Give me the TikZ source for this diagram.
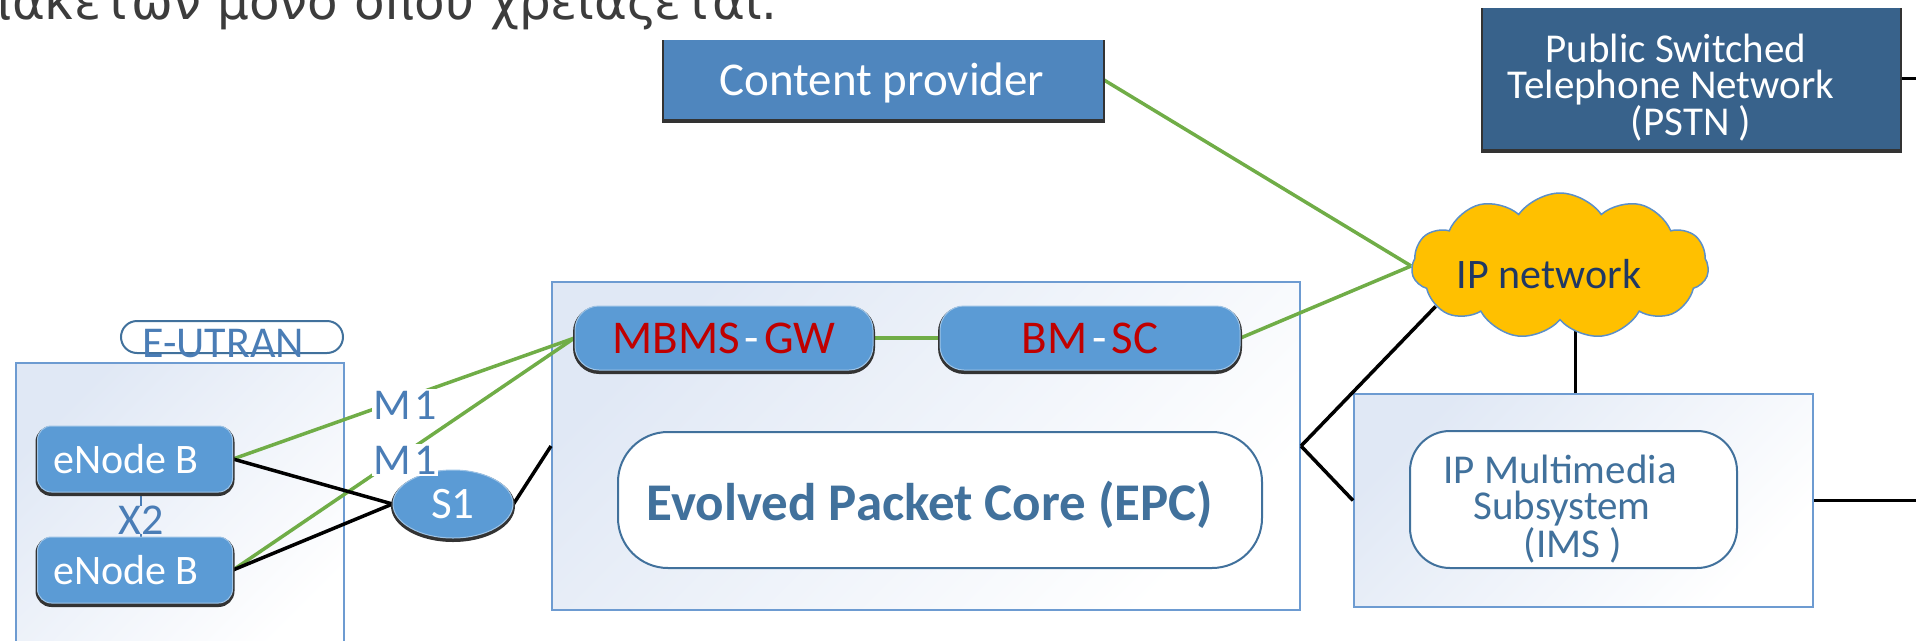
\documentclass[tikz,border=0pt]{standalone}
\usepackage{fontspec}
\setmainfont{Carlito}
\newfontfamily\greekfont{DejaVu Sans}
\usetikzlibrary{shapes.geometric,shapes.symbols,shadows}
\pgfdeclarelayer{frames}
\pgfdeclarelayer{links}
\pgfsetlayers{frames,links,main}

\definecolor{unitblue}{HTML}{5B9BD5}
\definecolor{provblue}{HTML}{4F86BE}
\definecolor{pstnblue}{HTML}{38628B}
\definecolor{frameedge}{HTML}{6D9BD1}
\definecolor{frametint}{HTML}{E0E8F5}
\definecolor{labelblue}{HTML}{4A7DB6}
\definecolor{coreblue}{HTML}{41719C}
\definecolor{ipblue}{HTML}{203864}
\definecolor{cloudgold}{HTML}{FFC000}
\definecolor{cloudedge}{HTML}{5B8FC9}
\definecolor{mbmsred}{HTML}{C00000}
\definecolor{linkgreen}{HTML}{70AD47}
\definecolor{headgray}{HTML}{3C3C3C}

\newcommand\fsz[1]{\fontsize{#1}{#1}\selectfont}
\newcommand\whdash{\kern5pt{\color{white}-}\kern5pt}

\begin{document}
\begin{tikzpicture}[x=1pt,y=-1pt,
  frame/.style={draw=frameedge, line width=2pt, top color=frametint,
    bottom color=white, shading angle=45, inner sep=0pt},
  darkshadow/.style={general shadow={fill=black!80, draw=black!80,
    line width=4pt, shadow yshift=-2pt}},
  unit/.style={fill=unitblue, draw=unitblue!60!white, line width=1pt,
    text=white, rounded corners=14pt, inner sep=0pt, font=\fsz{42},
    darkshadow},
  square/.style={draw=none, text=white, inner sep=0pt, darkshadow},
  tag/.style={text=labelblue, inner sep=0pt, font=\fsz{44}},
  core/.style={draw=coreblue, line width=2pt, fill=white, inner sep=0pt},
  wire/.style={draw=black, line width=3.5pt},
  feed/.style={draw=linkgreen, line width=3.5pt},
  txt/.style={anchor=base, inner sep=0pt},
]
\useasboundingbox (0,0) rectangle (1916,640);

% heading line, cut by the top edge
\node[txt, anchor=base east, text=headgray, font=\greekfont\fsz{50}]
  (heading) at (778,19) {πακέτων μόνο όπου χρειάζεται.};

% large container frames
\begin{pgfonlayer}{frames}
  \node[frame, anchor=north west, minimum width=328pt, minimum height=300pt]
    (ran) at (15,362) {};
  \node[frame, minimum width=748pt, minimum height=328pt] (epc) at (926,446) {};
  \node[frame, minimum width=459pt, minimum height=213pt]
    (imsframe) at (1583.5,500.5) {};
\end{pgfonlayer}

% radio access network
\node[draw=coreblue, line width=2pt, fill=white, rounded corners=16pt,
  minimum width=222pt, minimum height=32pt, inner sep=0pt] (ranpill) at (232,337) {};
\node[txt, text=labelblue, font=\fsz{44}] (rantitle) at (223,357) {E-UTRAN};
\node[unit, minimum width=195pt, minimum height=66pt] (enb1) at (135,459)
  {\kern-18pt eNode B};
\node[unit, minimum width=195pt, minimum height=66pt] (enb2) at (135,570)
  {\kern-18pt eNode B};
\node[tag] (x2) at (141,520) {X2};
\node[unit, ellipse, minimum width=120pt, minimum height=68pt, font=\fsz{45}]
  (s1) at (453,504) {S1};
\node[tag, fill=white, inner sep=2pt] (m1a) at (405,405) {M\kern3pt 1};
\node[tag, fill=white, inner sep=2pt] (m1b) at (405,460) {M\kern3pt 1};

% evolved packet core
\node[unit, rounded corners=24pt, minimum width=298pt, minimum height=64pt,
  text=mbmsred, font=\fsz{47}] (mbmsgw) at (724,338) {MBMS\whdash GW};
\node[unit, rounded corners=24pt, minimum width=300pt, minimum height=64pt,
  text=mbmsred, font=\fsz{47}] (bmsc) at (1090,338) {BM\whdash SC};
\node[core, rounded corners=50pt, minimum width=644pt, minimum height=136pt]
  (epccore) at (940,500) {};
\node[txt, text=coreblue, font=\bfseries\fsz{53}] (epctitle) at (930,520)
  {Evolved Packet Core (EPC)};

% content source and external networks
\node[square, fill=provblue, minimum width=439pt, minimum height=79pt]
  (provider) at (883.5,79.5) {};
\node[txt, text=white, font=\fsz{47}] (provlabel) at (882,95) {Content provider};
\node[square, fill=pstnblue, minimum width=417pt, minimum height=141pt]
  (pstn) at (1691.5,78.5) {};
\node[txt, text=white, font=\fsz{41}] (pstnA) at (1676,62) {Public Switched};
\node[txt, text=white, font=\fsz{41}] (pstnB) at (1671,98) {Telephone Network};
\node[txt, text=white, font=\fsz{41}] (pstnC) at (1691,135) {(PSTN )};

\node[cloud, cloud puffs=11, cloud puff arc=110, cloud ignores aspect,
  minimum width=297pt, minimum height=146pt, fill=cloudgold, draw=cloudedge,
  line width=1.5pt] (ipnet) at (1560,266) {};
\node[txt, text=ipblue, font=\fsz{42}] (iplabel) at (1549,288) {IP network};

\node[core, rounded corners=40pt, minimum width=327pt, minimum height=137pt]
  (ims) at (1573.5,499.5) {};
\node[txt, text=coreblue, font=\fsz{41}] (imsA) at (1560,483) {IP Multimedia};
\node[txt, text=coreblue, font=\fsz{41}] (imsB) at (1562,519) {Subsystem};
\node[txt, text=coreblue, font=\fsz{41}] (imsC) at (1573,557) {(IMS )};

\coordinate (pstnout) at (1916,78.5);
\coordinate (imsout) at (1916,500.5);

% connectors
\begin{pgfonlayer}{links}
  \draw[wire] (pstn.east) -- (pstnout);
  \draw[wire] (imsframe.east) -- (imsout);
  \draw[feed] (provider.east) -- (ipnet.west);
  \draw[feed] (bmsc.east) -- (ipnet.west);
  \draw[feed] (mbmsgw) -- (bmsc);
  \draw[wire] (epc.east) -- (ipnet.198);
  \draw[wire] (epc.east) -- (imsframe.west);
  \draw[wire] ([xshift=-8pt]imsframe.north) -- ++(0,-90);
  \draw[feed] (enb1.east) -- (mbmsgw.west);
  \draw[feed] (enb2.east) -- (mbmsgw.west);
  \draw[wire] (enb1.east) -- (s1.west);
  \draw[wire] (enb2.east) -- (s1.west);
  \draw[wire] (s1.east) -- (epc.west);
  \draw[draw=labelblue, line width=1.5pt] (enb1.south -| x2) -- (x2.north);
  \draw[draw=labelblue, line width=1.5pt] (x2.south) -- (enb2.north -| x2);
\end{pgfonlayer}
\end{tikzpicture}
\end{document}
